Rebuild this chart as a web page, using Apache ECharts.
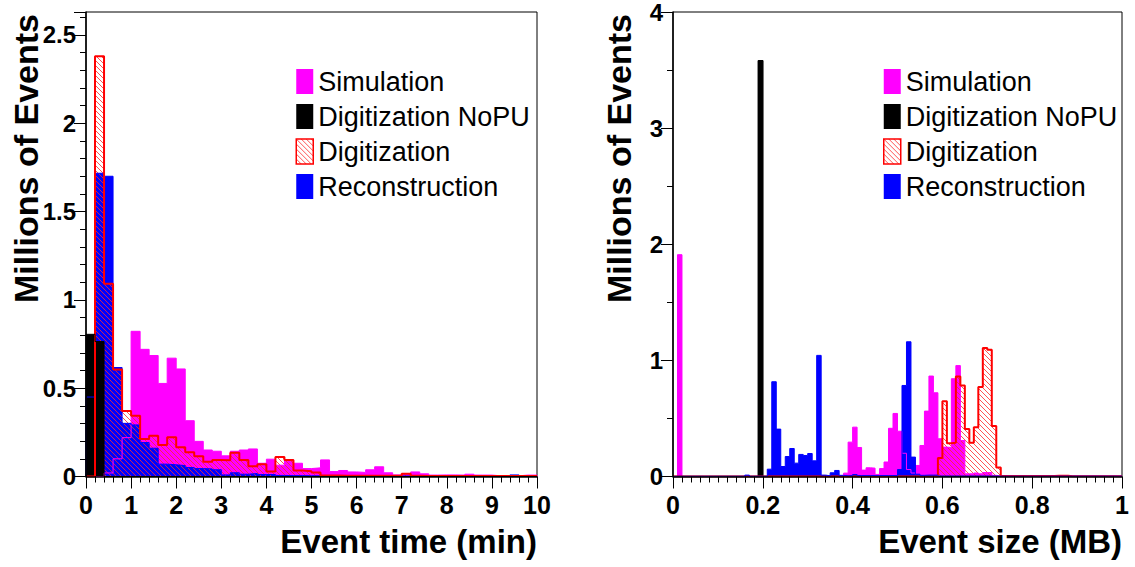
<!DOCTYPE html>
<html><head><meta charset="utf-8">
<script src="https://cdn.jsdelivr.net/npm/echarts@6/dist/echarts.min.js"></script>
<style>html,body{margin:0;padding:0;background:#fff}#c{width:1135px;height:567px}</style>
</head><body><div id="c"></div>
<script>
// ---------------- data ----------------
// Left panel: event time, 50 bins of 0.2 min (0..10 min), millions of events
const timeBinWidth = 0.2;
const simTime = [0, 0, 0.02, 0.10, 0.22, 0.822, 0.720, 0.685, 0.527, 0.670,
  0.609, 0.316, 0.199, 0.150, 0.143, 0.117, 0.143, 0.150, 0.156, 0.075,
  0.098, 0.064, 0.094, 0.075, 0.045, 0.049, 0.094, 0.028, 0.034, 0.026,
  0.023, 0.038, 0.055, 0.021, 0.009, 0.015, 0.026, 0.015, 0.008, 0.009,
  0.009, 0.008, 0.013, 0.008, 0.008, 0.004, 0.004, 0.004, 0.008, 0.008];
const nopuTime = [0.805, 0.764, 0, 0, 0, 0, 0, 0, 0, 0,
  0, 0, 0, 0, 0, 0, 0, 0, 0, 0,
  0, 0, 0, 0, 0, 0, 0, 0, 0, 0,
  0, 0, 0, 0, 0, 0, 0, 0, 0, 0,
  0, 0, 0, 0, 0, 0, 0, 0, 0, 0];
const digiTime = [0, 2.38, 1.091, 0.606, 0.371, 0.344, 0.213, 0.231, 0.179, 0.222,
  0.166, 0.137, 0.115, 0.083, 0.094, 0.092, 0.135, 0.094, 0.058, 0.070,
  0.028, 0.111, 0.094, 0.034, 0.030, 0.023, 0.006, 0.006, 0.004, 0.004,
  0.004, 0.004, 0.004, 0.004, 0.004, 0.015, 0.004, 0.003, 0.003, 0.003,
  0.003, 0.003, 0.003, 0.003, 0.003, 0.003, 0.003, 0.003, 0.003, 0.003];
const recoTime = [0.45, 1.717, 1.70, 0.617, 0.301, 0.292, 0.192, 0.160, 0.070, 0.066,
  0.062, 0.051, 0.045, 0.043, 0.038, 0.009, 0.021, 0.013, 0.017, 0.011,
  0.011, 0.006, 0.005, 0.005, 0.004, 0.004, 0.003, 0.003, 0.003, 0.003,
  0.003, 0.003, 0.003, 0.003, 0.003, 0.003, 0.003, 0.003, 0.003, 0.003,
  0.003, 0.003, 0.003, 0.003, 0.003, 0.003, 0.003, 0.009, 0.003, 0.003];

// Right panel: event size, 100 bins of 0.01 MB (0..1 MB), millions of events
const sizeBinWidth = 0.01;
const simSize = [0, 1.91, 0, 0, 0, 0, 0, 0, 0, 0,
  0, 0, 0, 0, 0, 0, 0, 0, 0, 0,
  0, 0, 0, 0, 0, 0, 0, 0, 0, 0,
  0, 0, 0, 0, 0, 0, 0, 0, 0.029, 0.296,
  0.425, 0.25, 0.055, 0.075, 0.072, 0.018, 0.068, 0.125, 0.415, 0.543,
  0.39, 0.2, 0.06, 0.03, 0.095, 0.267, 0.563, 0.865, 0.721, 0.325,
  0.253, 0.25, 0.842, 0.955, 0.31, 0.023, 0.023, 0.03, 0.023, 0.034,
  0.034, 0.01, 0.004, 0.004, 0.003, 0.003, 0.003, 0.003, 0.003, 0.003,
  0.003, 0.003, 0.003, 0.003, 0.003, 0.003, 0.003, 0.003, 0.002, 0.002,
  0.002, 0.002, 0.002, 0.002, 0.002, 0.002, 0.002, 0.002, 0.002, 0.002];
const nopuSize = [0, 0, 0, 0, 0, 0, 0, 0, 0, 0,
  0, 0, 0, 0, 0, 0, 0, 0, 0, 3.58,
  0, 0, 0, 0, 0, 0, 0, 0, 0, 0,
  0, 0, 0, 0, 0, 0, 0, 0, 0, 0,
  0, 0, 0, 0, 0, 0, 0, 0, 0, 0,
  0, 0, 0, 0, 0, 0, 0, 0, 0, 0,
  0, 0, 0, 0, 0, 0, 0, 0, 0, 0,
  0, 0, 0, 0, 0, 0, 0, 0, 0, 0,
  0, 0, 0, 0, 0, 0, 0, 0, 0, 0,
  0, 0, 0, 0, 0, 0, 0, 0, 0, 0];
const digiSize = [0, 0, 0, 0, 0, 0, 0, 0, 0, 0,
  0, 0, 0, 0, 0, 0, 0, 0, 0, 0,
  0, 0, 0, 0, 0, 0, 0, 0, 0, 0,
  0, 0, 0, 0, 0, 0, 0, 0, 0, 0,
  0, 0, 0, 0, 0, 0, 0, 0, 0, 0,
  0, 0, 0, 0, 0, 0, 0, 0, 0, 0.16,
  0.649, 0.287, 0.29, 0.862, 0.784, 0.408, 0.29, 0.425, 0.77, 1.107,
  1.092, 0.434, 0.077, 0.005, 0.005, 0.005, 0.005, 0.005, 0.005, 0.005,
  0.005, 0.005, 0.005, 0.005, 0.005, 0.007, 0.007, 0.007, 0.002, 0.002,
  0.002, 0.002, 0.002, 0.002, 0.002, 0.002, 0.002, 0.002, 0.002, 0.002];
const recoSize = [0.002, 0.002, 0.002, 0.002, 0.002, 0.002, 0.002, 0.002, 0.002, 0.002,
  0.002, 0.002, 0.002, 0.002, 0.002, 0.002, 0.012, 0.002, 0.002, 0.002,
  0.002, 0.063, 0.816, 0.408, 0.086, 0.172, 0.241, 0.115, 0.19, 0.181,
  0.198, 0.135, 1.043, 0.012, 0.006, 0.032, 0.052, 0.01, 0.006, 0.008,
  0.017, 0.008, 0.008, 0.008, 0.008, 0.008, 0.008, 0.008, 0.008, 0.008,
  0.06, 0.784, 1.16, 0.167, 0.02, 0.01, 0.012, 0.012, 0.012, 0.003,
  0.003, 0.003, 0.003, 0.003, 0.003, 0.003, 0.003, 0.003, 0.003, 0.003,
  0.003, 0.003, 0.003, 0.003, 0.003, 0.003, 0.003, 0.003, 0.003, 0.003,
  0.003, 0.003, 0.003, 0.003, 0.003, 0.003, 0.003, 0.003, 0.003, 0.003,
  0.003, 0.003, 0.003, 0.003, 0.003, 0.003, 0.003, 0.003, 0.003, 0.003];

const seriesNames = ['Simulation', 'Digitization NoPU', 'Digitization', 'Reconstruction'];
const timeTicks = {min: 0, max: 10, interval: 1};
const sizeTicks = {min: 0, max: 1, interval: 0.2};

// ---------------- helpers ----------------
const FONT = 'Liberation Sans, Arial, Helvetica, sans-serif';
const C_SIM = '#ff00ff', C_NOPU = '#000000', C_DIGI = '#ff0000', C_RECO = '#0000ff';

function hatchCanvas() {
  const c = document.createElement('canvas');
  c.width = 5; c.height = 5;
  const g = c.getContext('2d');
  g.strokeStyle = 'rgba(255,40,40,0.8)';
  g.lineWidth = 1;
  for (const k of [-5, 0, 5]) {
    g.beginPath(); g.moveTo(k, 0); g.lineTo(k + 5, 5); g.stroke();
  }
  return c;
}
const hatch = {image: hatchCanvas(), repeat: 'repeat', imageWidth: 5, imageHeight: 5};

// histogram outline points (bin edges -> step line)
function stepPoints(binWidth, vals) {
  const pts = [[0, 0]];
  vals.forEach((v, i) => pts.push([+(i * binWidth).toFixed(4), v]));
  pts.push([+(vals.length * binWidth).toFixed(4), 0]);
  return pts;
}

function hist(name, binWidth, vals, idx, line, fill, lw, z) {
  return {
    type: 'line', name, xAxisIndex: idx, yAxisIndex: idx, step: 'end',
    symbol: 'none', silent: true, animation: false, z,
    data: stepPoints(binWidth, vals),
    itemStyle: {color: line},
    lineStyle: {color: line, width: lw},
    areaStyle: {color: fill, opacity: 1}
  };
}

function xAxis(idx, ticks, minorSplit, name) {
  return {
    gridIndex: idx, type: 'value', min: ticks.min, max: ticks.max, interval: ticks.interval,
    axisLine: {show: true, onZero: false, lineStyle: {color: '#000', width: 1.5}},
    axisTick: {show: true, inside: false, length: 12, lineStyle: {color: '#000', width: 1}},
    minorTick: {show: true, splitNumber: minorSplit, length: 6, lineStyle: {color: '#000', width: 1}},
    splitLine: {show: false}, minorSplitLine: {show: false},
    axisLabel: {fontSize: 25, fontWeight: 'bold', fontFamily: FONT, color: '#000', margin: 16},
    name, nameLocation: 'end', nameGap: 0, nameMoveOverlap: false,
    nameTextStyle: {fontSize: 33, fontWeight: 'bold', fontFamily: FONT, color: '#000',
      align: 'right', verticalAlign: 'top', padding: [48, 0, 0, 0]},
    z: 10
  };
}
function yAxis(idx, min, max, interval, minorSplit, pb) {
  return {
    gridIndex: idx, type: 'value', min, max, interval,
    axisLine: {show: true, onZero: false, lineStyle: {color: '#000', width: 1.5}},
    axisTick: {show: true, inside: false, length: 12, lineStyle: {color: '#000', width: 1}},
    minorTick: {show: true, splitNumber: minorSplit, length: 6, lineStyle: {color: '#000', width: 1}},
    splitLine: {show: false}, minorSplitLine: {show: false},
    axisLabel: {fontSize: 24, fontWeight: 'bold', fontFamily: FONT, color: '#000', margin: 10,
      lineHeight: 20, showMaxLabel: max % interval === 0},
    name: 'Millions of Events', nameLocation: 'end', nameGap: -2, nameRotate: 90, nameMoveOverlap: false,
    nameTextStyle: {fontSize: 34, fontWeight: 'bold', fontFamily: FONT, color: '#000',
      align: 'right', verticalAlign: 'bottom', padding: [0, 0, pb, 0]},
    z: 10
  };
}
function legend(left) {
  return {
    left, top: 68, padding: 0, orient: 'vertical', itemWidth: 17, itemHeight: 25, itemGap: 8,
    icon: 'rect', selectedMode: false,
    textStyle: {fontSize: 27, fontFamily: FONT, color: '#000', lineHeight: 27},
    data: [
      {name: seriesNames[0], itemStyle: {color: C_SIM, borderWidth: 0}},
      {name: seriesNames[1], itemStyle: {color: C_NOPU, borderWidth: 0}},
      {name: seriesNames[2], itemStyle: {color: hatch, borderColor: C_DIGI, borderWidth: 1.5}},
      {name: seriesNames[3], itemStyle: {color: C_RECO, borderWidth: 0}}
    ]
  };
}

const chart = echarts.init(document.getElementById('c'), null, {renderer: 'svg'});
chart.setOption({
  animation: false,
  backgroundColor: '#fff',
  grid: [
    {left: 86, top: 12, width: 451, height: 464.5, show: true, borderColor: '#000', borderWidth: 1,
     containLabel: false, outerBoundsMode: 'none'},
    {left: 673, top: 12, width: 449, height: 464.5, show: true, borderColor: '#000', borderWidth: 1,
     containLabel: false, outerBoundsMode: 'none'}
  ],
  xAxis: [xAxis(0, timeTicks, 5, 'Event time (min)'), xAxis(1, sizeTicks, 10, 'Event size (MB)')],
  yAxis: [yAxis(0, 0, 2.63, 0.5, 5, 43), yAxis(1, 0, 4, 1, 2, 37)],
  legend: [legend(295.5), legend(883)],
  series: [
    // left panel
    hist(seriesNames[0], timeBinWidth, simTime, 0, C_SIM, C_SIM, 1, 2),
    hist(seriesNames[3], timeBinWidth, recoTime, 0, C_RECO, C_RECO, 1, 2),
    hist(seriesNames[2], timeBinWidth, digiTime, 0, C_DIGI, hatch, 2, 2),
    hist(seriesNames[1], timeBinWidth, nopuTime, 0, C_NOPU, C_NOPU, 1, 2),
    // right panel
    hist(seriesNames[0], sizeBinWidth, simSize, 1, C_SIM, C_SIM, 1, 2),
    hist(seriesNames[1], sizeBinWidth, nopuSize, 1, C_NOPU, C_NOPU, 1.5, 2),
    hist(seriesNames[2], sizeBinWidth, digiSize, 1, C_DIGI, hatch, 2, 2),
    hist(seriesNames[3], sizeBinWidth, recoSize, 1, C_RECO, C_RECO, 1, 2)
  ]
});
</script>
</body></html>
